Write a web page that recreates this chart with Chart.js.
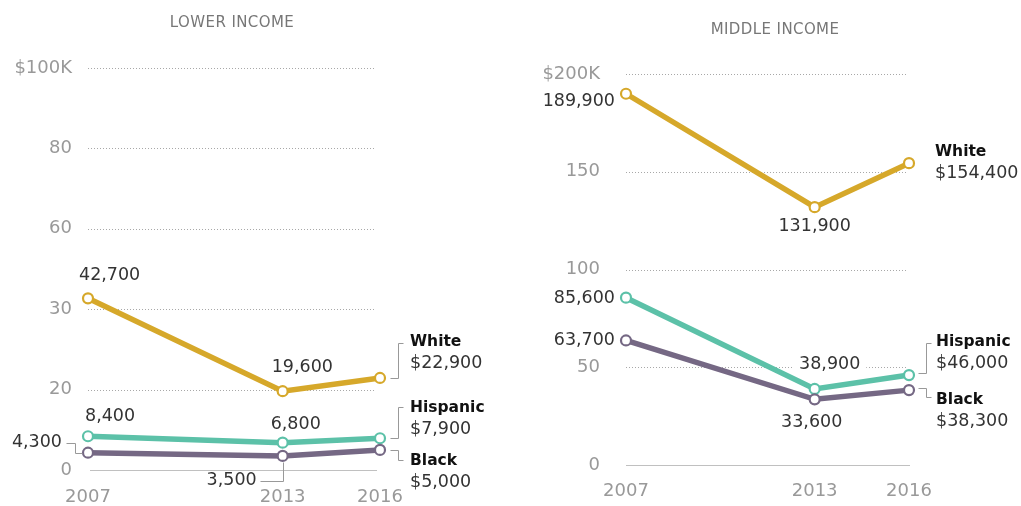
<!DOCTYPE html>
<html>
<head>
<meta charset="utf-8">
<script src="https://cdn.jsdelivr.net/npm/chart.js@4.4.1/dist/chart.umd.min.js"></script>
<style>
  html, body { margin: 0; padding: 0; background: #fff; }
  #wrap { position: relative; width: 1021px; height: 506px; }
  canvas { position: absolute; top: 0; }
  #lower { left: 0; }
  #middle { left: 510px; }
</style>
</head>
<body>
<div id="wrap">
  <canvas id="lower" width="510" height="506"></canvas>
  <canvas id="middle" width="511" height="506"></canvas>
</div>
<script>
const years = [2007, 2013, 2016];
const seriesNames = ["White", "Hispanic", "Black"];

const lowerWhite = [42700, 19600, 22900];
const lowerHispanic = [8400, 6800, 7900];
const lowerBlack = [4300, 3500, 5000];

const middleWhite = [189900, 131900, 154400];
const middleHispanic = [85600, 38900, 46000];
const middleBlack = [63700, 33600, 38300];

const lowerTicks = [0, 20000, 40000, 60000, 80000, 100000];
const lowerTickLabels = ["0", "20", "30", "60", "80", "$100K"];
const middleTicks = [0, 50000, 100000, 150000, 200000];
const middleTickLabels = ["0", "50", "100", "150", "$200K"];

const colors = ["#d6a82a", "#5cc1a8", "#756884"];
const FONT = "'DejaVu Sans', sans-serif";

// where the value labels sit, relative to their point
const lowerNotes = [
  { ds: 0, i: 0, dx: -9, dy: -23, align: "left" },
  { ds: 0, i: 1, dx: -11, dy: -24, align: "left" },
  { ds: 1, i: 0, dx: -3, dy: -20, align: "left" },
  { ds: 1, i: 1, dx: -12, dy: -18, align: "left" },
  { ds: 2, i: 0, dx: -26, dy: -10, align: "right",
    leader: [[-22, -10], [-13, -10], [-13, 0], [-6, 0]] },
  { ds: 2, i: 1, dx: -26, dy: 25, align: "right",
    leader: [[-23, 25], [0, 25], [0, 6]] },
  { ds: 0, i: 2, dx: 30, dy: -36, align: "left", end: true,
    leader: [[10, 0], [18, 0], [18, -35], [23, -35]] },
  { ds: 1, i: 2, dx: 30, dy: -30, align: "left", end: true,
    leader: [[10, 0], [18, 0], [18, -31], [23, -31]] },
  { ds: 2, i: 2, dx: 30, dy: 11, align: "left", end: true,
    leader: [[10, 0], [18, 0], [18, 10], [23, 10]] },
];

const middleNotes = [
  { ds: 0, i: 0, dx: -11, dy: 8, align: "right" },
  { ds: 0, i: 1, dx: 0, dy: 19, align: "center" },
  { ds: 1, i: 0, dx: -11, dy: 1, align: "right" },
  { ds: 2, i: 0, dx: -11, dy: 0, align: "right" },
  { ds: 1, i: 1, dx: 15, dy: -24, align: "center", knockout: true },
  { ds: 2, i: 1, dx: -3, dy: 23, align: "center" },
  { ds: 0, i: 2, dx: 26, dy: -11, align: "left", end: true },
  { ds: 1, i: 2, dx: 27, dy: -33, align: "left", end: true,
    leader: [[9, -2], [17, -2], [17, -32], [22, -32]] },
  { ds: 2, i: 2, dx: 27, dy: 10, align: "left", end: true,
    leader: [[9, -2], [17, -2], [17, 7], [22, 7]] },
];

const fmt = (v) => v.toLocaleString("en-US");

const pewDecor = {
  id: "pewDecor",
  beforeDatasetsDraw(chart, args, opts) {
    const { ctx, chartArea: a, scales } = chart;
    ctx.save();
    ctx.lineWidth = 1;
    opts.grid.forEach((v) => {
      const y = Math.round(scales.y.getPixelForValue(v)) + 0.5;
      ctx.beginPath();
      if (v === 0) {
        ctx.strokeStyle = "#c0c0c0";
        ctx.setLineDash([]);
        ctx.moveTo(a.left + opts.zero[0], y);
        ctx.lineTo(a.right + opts.zero[1], y);
      } else {
        ctx.strokeStyle = "#a8a8a8";
        ctx.setLineDash([1, 2]);
        ctx.moveTo(a.left + opts.dots[0], y);
        ctx.lineTo(a.right + opts.dots[1], y);
      }
      ctx.stroke();
    });
    ctx.setLineDash([]);
    ctx.fillStyle = "#777";
    ctx.font = "15px " + FONT;
    ctx.letterSpacing = "0.4px";
    ctx.textAlign = "center";
    ctx.textBaseline = "middle";
    ctx.fillText(opts.title, (a.left + a.right) / 2 + opts.titleDx, opts.titleY);
    ctx.restore();
  },
  afterDatasetsDraw(chart, args, opts) {
    const { ctx } = chart;
    ctx.save();
    ctx.textBaseline = "middle";
    opts.notes.forEach((n) => {
      const ds = chart.data.datasets[n.ds];
      const pt = chart.getDatasetMeta(n.ds).data[n.i];
      const x = pt.x + n.dx;
      const y = pt.y + n.dy;
      const val = ds.data[n.i].y;
      if (n.leader) {
        ctx.strokeStyle = "#999";
        ctx.lineWidth = 1;
        ctx.beginPath();
        n.leader.forEach(([lx, ly], k) => {
          const px = Math.round(pt.x + lx) + 0.5;
          const py = Math.round(pt.y + ly) + 0.5;
          if (k === 0) ctx.moveTo(px, py);
          else ctx.lineTo(px, py);
        });
        ctx.stroke();
      }
      ctx.textAlign = n.align;
      if (n.end) {
        ctx.fillStyle = "#111";
        ctx.font = "bold 15.5px " + FONT;
        ctx.fillText(ds.label, x, y);
        ctx.fillStyle = "#333";
        ctx.font = "17.5px " + FONT;
        ctx.fillText("$" + fmt(val), x, y + 21.5);
      } else {
        const txt = fmt(val);
        ctx.font = "17.5px " + FONT;
        if (n.knockout) {
          const w = ctx.measureText(txt).width + 12;
          ctx.fillStyle = "#fff";
          ctx.fillRect(x - w / 2, y - 10, w, 20);
        }
        ctx.fillStyle = "#333";
        ctx.fillText(txt, x, y);
      }
    });
    ctx.restore();
  },
};

function makeDatasets(series) {
  return series.map((vals, k) => ({
    label: seriesNames[k],
    data: years.map((yr, i) => ({ x: yr, y: vals[i] })),
    borderColor: colors[k],
    borderWidth: 5.5,
    pointRadius: 5,
    pointBorderWidth: 2.2,
    pointBackgroundColor: "#fff",
    pointBorderColor: colors[k],
    tension: 0,
    clip: false,
  }));
}

function makeChart(id, series, yMax, ticks, tickLabels, panel) {
  const tickFont = { family: FONT, size: 18 };
  return new Chart(document.getElementById(id), {
    type: "line",
    data: { datasets: makeDatasets(series).reverse() },
    options: {
      responsive: false,
      animation: false,
      devicePixelRatio: 1,
      layout: { padding: panel.padding },
      scales: {
        x: {
          type: "linear",
          min: 2007,
          max: 2016,
          afterBuildTicks: (s) => { s.ticks = years.map((v) => ({ value: v })); },
          afterFit: (s) => { s.height = panel.xHeight; },
          grid: { display: false, drawTicks: false },
          border: { display: false },
          ticks: {
            padding: panel.xPad,
            color: "#999",
            font: tickFont,
            autoSkip: false,
            maxRotation: 0,
            callback: (v) => String(v),
          },
        },
        y: {
          min: 0,
          max: yMax,
          afterBuildTicks: (s) => { s.ticks = ticks.map((v) => ({ value: v })); },
          afterFit: (s) => { s.width = panel.yWidth; },
          grid: { display: false, drawTicks: false },
          border: { display: false },
          ticks: {
            padding: panel.yPad,
            color: "#999",
            font: tickFont,
            callback: (v, i) => tickLabels[i],
          },
        },
      },
      plugins: {
        legend: { display: false },
        tooltip: { enabled: false },
        pewDecor: {
          grid: ticks,
          title: panel.title,
          titleDx: panel.titleDx,
          titleY: panel.titleY,
          dots: panel.dots,
          zero: panel.zero,
          notes: panel.notes.map((n) => ({ ...n, ds: 2 - n.ds })),
        },
      },
    },
    plugins: [pewDecor],
  });
}

makeChart("lower", [lowerWhite, lowerHispanic, lowerBlack], 100000, lowerTicks, lowerTickLabels, {
  padding: { left: 0, top: 68, right: 130, bottom: 0 },
  yWidth: 88,
  yPad: 16,
  xHeight: 36,
  xPad: 17,
  title: "LOWER INCOME",
  titleDx: -2,
  titleY: 23.5,
  dots: [0, -4],
  zero: [2, -3],
  notes: lowerNotes,
});

makeChart("middle", [middleWhite, middleHispanic, middleBlack], 200000, middleTicks, middleTickLabels, {
  padding: { left: 0, top: 74, right: 112, bottom: 0 },
  yWidth: 116,
  yPad: 26,
  xHeight: 41,
  xPad: 16,
  title: "MIDDLE INCOME",
  titleDx: 7.5,
  titleY: 30.5,
  dots: [0, -1],
  zero: [0, 1],
  notes: middleNotes,
});
</script>
</body>
</html>
